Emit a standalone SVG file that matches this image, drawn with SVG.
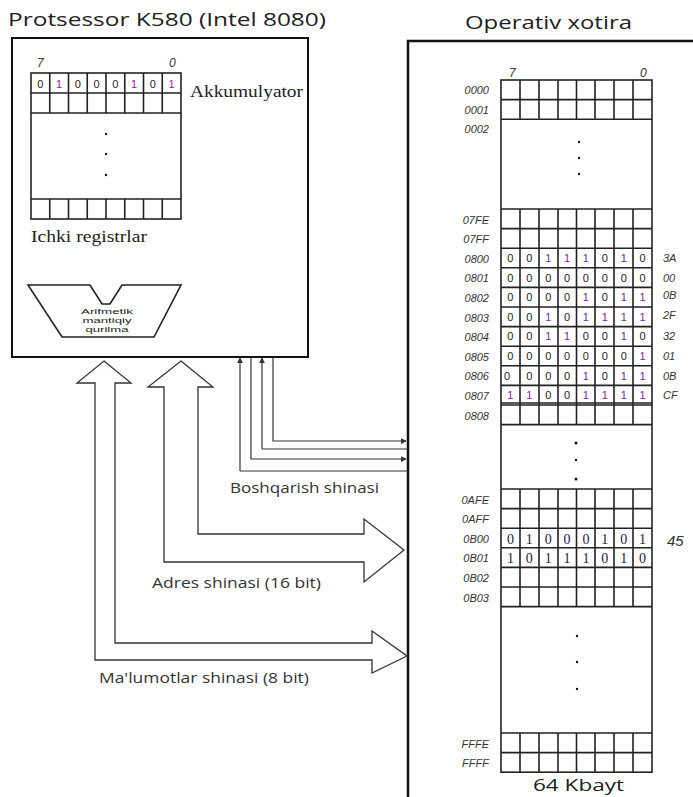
<svg xmlns="http://www.w3.org/2000/svg" width="693" height="797" viewBox="0 0 693 797">
<style>
.box{fill:#fff;stroke:#111;stroke-width:2}
.grid{fill:none;stroke:#222;stroke-width:1.6}
.title{font-family:"Open Sans","Liberation Sans",sans-serif;font-size:19px;fill:#222}
.serif{font-family:"Liberation Serif",serif;font-size:17px;fill:#222}
.addr{font-family:"Liberation Sans",sans-serif;font-style:italic;font-size:11px;fill:#333;text-anchor:end}
.hex{font-family:"Liberation Sans",sans-serif;font-style:italic;font-size:11px;fill:#333}
.big{font-size:15px}
.idx{font-family:"Liberation Sans",sans-serif;font-style:italic;font-size:12px;fill:#333}
.bit{font-family:"Liberation Sans",sans-serif;font-size:11px;fill:#222;text-anchor:middle}
.one{fill:#7a2a9a}
.sbit{font-family:"Liberation Serif",serif;font-size:14px;fill:#1c1c3c;text-anchor:middle}
.alu{font-family:"Liberation Sans",sans-serif;font-size:8px;fill:#222;text-anchor:middle}
.lbl{font-family:"Open Sans","Liberation Sans",sans-serif;font-size:14px;fill:#333}
.bus{fill:#fff;stroke:#333;stroke-width:1.3;stroke-linejoin:miter}
.ctl{fill:none;stroke:#333;stroke-width:1.2}
.dot{fill:#111}
</style>
<defs>
<marker id="ah" viewBox="0 0 8 8" refX="7" refY="4" markerWidth="6" markerHeight="6" markerUnits="userSpaceOnUse" orient="auto-start-reverse">
<path d="M0,0 L8,4 L0,8 z" fill="#333"/>
</marker>
</defs>

<g id="cpu">
<text class="title" x="8" y="26" textLength="318" lengthAdjust="spacingAndGlyphs">Protsessor K580 (Intel 8080)</text>
<rect class="box" x="12" y="38" width="296" height="319"/>
</g>

<g id="registers">
<rect class="grid" x="31" y="73" width="150" height="146" stroke-width="2"/>
<path class="grid" d="M31,93H181M31,113H181M31,199H181
M49.75,73V113M68.5,73V113M87.25,73V113M106,73V113M124.75,73V113M143.5,73V113M162.25,73V113
M49.75,199V219M68.5,199V219M87.25,199V219M106,199V219M124.75,199V219M143.5,199V219M162.25,199V219"/>
<text class="idx" x="37" y="67">7</text>
<text class="idx" x="169" y="67">0</text>
<text class="bit" y="88"><tspan x="40.4">0</tspan><tspan x="59.1" class="one">1</tspan><tspan x="77.9">0</tspan><tspan x="96.6">0</tspan><tspan x="115.4">0</tspan><tspan x="134.1" class="one">1</tspan><tspan x="152.9">0</tspan><tspan x="171.6" class="one">1</tspan></text>
<circle class="dot" cx="106" cy="134" r="1.2"/>
<circle class="dot" cx="106" cy="154" r="1.2"/>
<circle class="dot" cx="106" cy="175" r="1.2"/>
<text class="serif" x="190" y="97" textLength="113" lengthAdjust="spacingAndGlyphs">Akkumulyator</text>
<text class="serif" x="31" y="242" textLength="116" lengthAdjust="spacingAndGlyphs">Ichki registrlar</text>
</g>

<g id="alu">
<polygon points="28,285 90,285 102,304 110,304 122,285 181,285 154,337 62,337" fill="#fff" stroke="#222" stroke-width="1.6"/>
<text class="alu" x="107" y="314" textLength="52" lengthAdjust="spacingAndGlyphs">Arifmetik</text>
<text class="alu" x="107" y="323" textLength="49" lengthAdjust="spacingAndGlyphs">mantiqiy</text>
<text class="alu" x="107" y="332" textLength="43" lengthAdjust="spacingAndGlyphs">qurilma</text>
</g>

<g id="memory">
<text class="title" x="465" y="29" textLength="167" lengthAdjust="spacingAndGlyphs">Operativ xotira</text>
<rect x="408" y="41" width="300" height="800" fill="#fff" stroke="#111" stroke-width="2.5"/>
<text class="idx" x="509" y="77">7</text>
<text class="idx" x="640" y="77">0</text>
<rect class="grid" x="501" y="80" width="151" height="692.2" stroke-width="2.2"/>
<path class="grid" d="M501,99.6H652M501,119.2H652
M520,80V119.2M539,80V119.2M558,80V119.2M576.5,80V119.2M595,80V119.2M614,80V119.2M633,80V119.2
M501,209H652M501,228.6H652M501,248.2H652M501,267.8H652M501,287.4H652M501,307H652M501,326.6H652M501,346.2H652M501,365.8H652M501,385.4H652M501,405H652M501,403H652M501,424.6H652
M520,209V424.6M539,209V424.6M558,209V424.6M576.5,209V424.6M595,209V424.6M614,209V424.6M633,209V424.6
M501,489H652M501,508.6H652M501,528.2H652M501,547.8H652M501,567.4H652M501,587H652M501,606.6H652
M520,489V606.6M539,489V606.6M558,489V606.6M576.5,489V606.6M595,489V606.6M614,489V606.6M633,489V606.6
M501,733H652M501,752.6H652
M520,733V772.2M539,733V772.2M558,733V772.2M576.5,733V772.2M595,733V772.2M614,733V772.2M633,733V772.2"/>
<circle class="dot" cx="579" cy="142" r="1.2"/>
<circle class="dot" cx="579" cy="158" r="1.2"/>
<circle class="dot" cx="579" cy="174" r="1.2"/>
<circle class="dot" cx="576" cy="443" r="1.5"/>
<circle class="dot" cx="576" cy="460" r="1.2"/>
<circle class="dot" cx="576" cy="479" r="1.5"/>
<circle class="dot" cx="577" cy="636" r="1.2"/>
<circle class="dot" cx="577" cy="662" r="1.2"/>
<circle class="dot" cx="577" cy="689" r="1.2"/>

<text class="addr" x="489" y="94">0000</text>
<text class="addr" x="489" y="113.6">0001</text>
<text class="addr" x="489" y="133.2">0002</text>
<text class="addr" x="489" y="223.5">07FE</text>
<text class="addr" x="489" y="243.1">07FF</text>
<text class="addr" x="489" y="262.7">0800</text>
<text class="addr" x="489" y="282.3">0801</text>
<text class="addr" x="489" y="301.9">0802</text>
<text class="addr" x="489" y="321.5">0803</text>
<text class="addr" x="489" y="341.1">0804</text>
<text class="addr" x="489" y="360.7">0805</text>
<text class="addr" x="489" y="380.3">0806</text>
<text class="addr" x="489" y="399.9">0807</text>
<text class="addr" x="489" y="419.5">0808</text>
<text class="addr" x="489" y="503.5">0AFE</text>
<text class="addr" x="489" y="523.1">0AFF</text>
<text class="addr" x="489" y="542.7">0B00</text>
<text class="addr" x="489" y="562.3">0B01</text>
<text class="addr" x="489" y="581.9">0B02</text>
<text class="addr" x="489" y="601.5">0B03</text>
<text class="addr" x="489" y="747.5">FFFE</text>
<text class="addr" x="489" y="767.1">FFFF</text>

<text class="hex" x="663" y="262">3A</text>
<text class="hex" x="663" y="281.6">00</text>
<text class="hex" x="663" y="299">0B</text>
<text class="hex" x="663" y="318.6">2F</text>
<text class="hex" x="663" y="340.4">32</text>
<text class="hex" x="663" y="360">01</text>
<text class="hex" x="663" y="379.6">0B</text>
<text class="hex" x="663" y="399">CF</text>
<text class="hex big" x="667" y="546">45</text>

<text class="bit" y="262"><tspan x="510.4">0</tspan><tspan x="529.3">0</tspan><tspan x="548.2" class="one">1</tspan><tspan x="567.1" class="one">1</tspan><tspan x="585.9" class="one">1</tspan><tspan x="604.8">0</tspan><tspan x="623.7" class="one">1</tspan><tspan x="642.6">0</tspan></text>
<text class="bit" y="281.6"><tspan x="510.4">0</tspan><tspan x="529.3">0</tspan><tspan x="548.2">0</tspan><tspan x="567.1">0</tspan><tspan x="585.9">0</tspan><tspan x="604.8">0</tspan><tspan x="623.7">0</tspan><tspan x="642.6">0</tspan></text>
<text class="bit" y="301.2"><tspan x="510.4">0</tspan><tspan x="529.3">0</tspan><tspan x="548.2">0</tspan><tspan x="567.1">0</tspan><tspan x="585.9" class="one">1</tspan><tspan x="604.8">0</tspan><tspan x="623.7" class="one">1</tspan><tspan x="642.6" class="one">1</tspan></text>
<text class="bit" y="320.8"><tspan x="510.4">0</tspan><tspan x="529.3">0</tspan><tspan x="548.2" class="one">1</tspan><tspan x="567.1">0</tspan><tspan x="585.9" class="one">1</tspan><tspan x="604.8" class="one">1</tspan><tspan x="623.7" class="one">1</tspan><tspan x="642.6" class="one">1</tspan></text>
<text class="bit" y="340.4"><tspan x="510.4">0</tspan><tspan x="529.3">0</tspan><tspan x="548.2" class="one">1</tspan><tspan x="567.1" class="one">1</tspan><tspan x="585.9">0</tspan><tspan x="604.8">0</tspan><tspan x="623.7" class="one">1</tspan><tspan x="642.6">0</tspan></text>
<text class="bit" y="360"><tspan x="510.4">0</tspan><tspan x="529.3">0</tspan><tspan x="548.2">0</tspan><tspan x="567.1">0</tspan><tspan x="585.9">0</tspan><tspan x="604.8">0</tspan><tspan x="623.7">0</tspan><tspan x="642.6" class="one">1</tspan></text>
<text class="bit" y="379.6"><tspan x="507">0</tspan><tspan x="529.3">0</tspan><tspan x="548.2">0</tspan><tspan x="567.1">0</tspan><tspan x="585.9" class="one">1</tspan><tspan x="604.8">0</tspan><tspan x="623.7" class="one">1</tspan><tspan x="642.6" class="one">1</tspan></text>
<text class="bit" y="399.2"><tspan x="510.4" class="one">1</tspan><tspan x="529.3" class="one">1</tspan><tspan x="548.2">0</tspan><tspan x="567.1">0</tspan><tspan x="585.9" class="one">1</tspan><tspan x="604.8" class="one">1</tspan><tspan x="623.7" class="one">1</tspan><tspan x="642.6" class="one">1</tspan></text>

<text class="sbit" y="543.5"><tspan x="510.4">0</tspan><tspan x="529.3">1</tspan><tspan x="548.2">0</tspan><tspan x="567.1">0</tspan><tspan x="585.9">0</tspan><tspan x="604.8">1</tspan><tspan x="623.7">0</tspan><tspan x="642.6">1</tspan></text>
<text class="sbit" y="563.1"><tspan x="510.4">1</tspan><tspan x="529.3">0</tspan><tspan x="548.2">1</tspan><tspan x="567.1">1</tspan><tspan x="585.9">1</tspan><tspan x="604.8">0</tspan><tspan x="623.7">1</tspan><tspan x="642.6">0</tspan></text>

<text x="533" y="791" font-family="'Open Sans','Liberation Sans',sans-serif" font-size="17" fill="#222" textLength="91" lengthAdjust="spacingAndGlyphs">64 Kbayt</text>
</g>

<g id="connectors">
<polygon id="data-bus" class="bus" points="104,361 131,383 115,383 115,643 372,643 372,631 407,656 372,673 372,660 95,660 95,383 77,383"/>
<polygon id="address-bus" class="bus" points="181,361 213,387 198,387 198,534 364,534 364,519 404,550 364,582 364,562 164,562 164,387 148,387"/>
<polyline class="ctl" points="240,471 240,358" marker-end="url(#ah)"/>
<polyline class="ctl" points="240,471 408,471"/>
<polyline class="ctl" points="251,357 251,459 406,459" marker-end="url(#ah)"/>
<polyline class="ctl" points="262,449 262,358" marker-end="url(#ah)"/>
<polyline class="ctl" points="262,449 408,449"/>
<polyline class="ctl" points="273,357 273,441 406,441" marker-end="url(#ah)"/>
</g>

<g id="labels">
<text class="lbl" x="230" y="493" textLength="149" lengthAdjust="spacingAndGlyphs">Boshqarish shinasi</text>
<text class="lbl" x="152" y="588" textLength="169" lengthAdjust="spacingAndGlyphs">Adres shinasi (16 bit)</text>
<text class="lbl" x="99" y="683" textLength="210" lengthAdjust="spacingAndGlyphs">Ma'lumotlar shinasi (8 bit)</text>
</g>
</svg>
